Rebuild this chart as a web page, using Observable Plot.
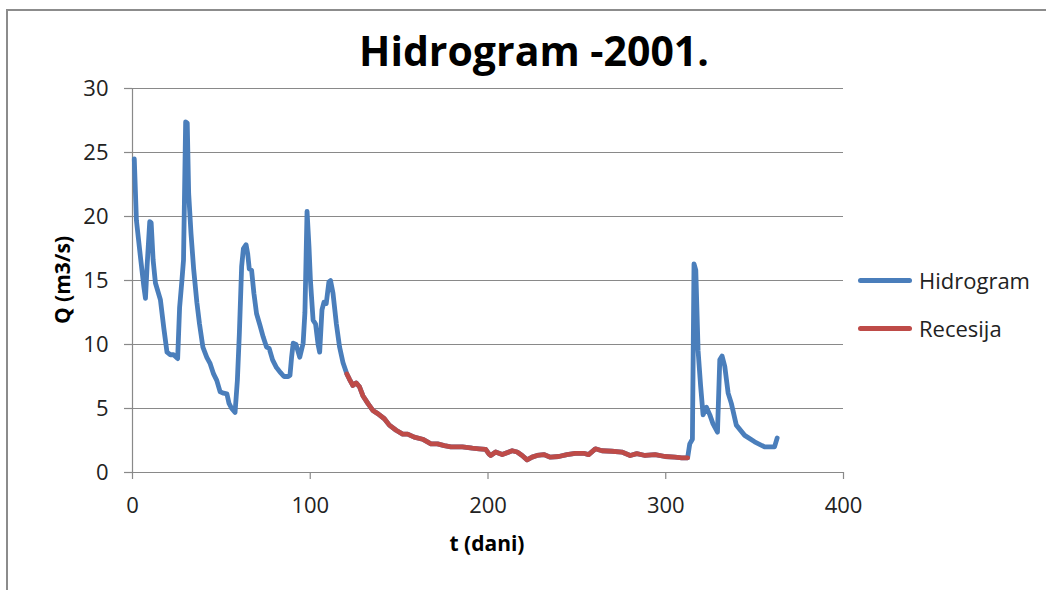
<!DOCTYPE html>
<html>
<head>
<meta charset="utf-8">
<script src="https://cdn.jsdelivr.net/npm/d3@7"></script>
<script src="https://cdn.jsdelivr.net/npm/@observablehq/plot@0.6"></script>
<style>
  html, body { margin: 0; padding: 0; background: #fff; }
  #wrap { position: relative; width: 1046px; height: 590px; overflow: hidden; font-family: "Open Sans", sans-serif; }
  #wrap svg { position: absolute; left: 0; top: 0; }
  .frame { position: absolute; left: 6px; top: 9px; width: 1200px; height: 800px; border: 2px solid #8c8c8c; box-sizing: border-box; }
  .title { position: absolute; left: 0; width: 1068px; top: 22px; text-align: center; font-weight: 700; font-size: 41px; line-height: 56px; color: #000; }
  .xlab { position: absolute; left: 387px; width: 200px; top: 528px; text-align: center; font-weight: 700; font-size: 21px; line-height: 30px; color: #000; }
  .ylab { position: absolute; left: 0; top: 0; white-space: nowrap; font-weight: 700; font-size: 21px; line-height: 30px; color: #000; }
  .leg { position: absolute; left: 858px; display: flex; align-items: center; font-size: 22px; color: #222; }
  .leg .sw { width: 54px; height: 5px; border-radius: 3px; margin-right: 7px; }
</style>
</head>
<body>
<div id="wrap">
  <div class="frame"></div>
</div>
<script>
// ---- data ----
const seriesNames = ["Hidrogram", "Recesija"];
const seriesColors = ["#4A7EBB", "#BE4B48"];
const xTicks = [0, 100, 200, 300, 400];
const yTicks = [0, 5, 10, 15, 20, 25, 30];

// Hidrogram, rising part (days 1–121)
const hidroT1 = [1, 2.2, 4.5, 6.4, 7.3, 8.2, 9.7, 10.5, 11.6, 12.9, 15.7, 17.6, 19.4, 21.3, 23.1, 25.4, 26.5, 27.8, 28.7, 29.9, 30.8, 31.6, 32.9, 34.4, 36.2, 37.7, 39.6, 41.8, 43.7, 45.6, 47.4, 49.3, 51.2, 53.1, 54.3, 55.8, 57.7, 59, 60.1, 61.4, 62.4, 63.9, 64.8, 65.7, 67, 68.3, 69.8, 71.7, 73.5, 75.4, 76.9, 78.8, 81, 83.3, 85.2, 87.6, 88.6, 89.5, 90.4, 92, 94.1, 96, 97, 98.2, 99.3, 100.1, 101.6, 103, 104.4, 105.3, 106.6, 107.7, 109, 110.5, 111.4, 112.8, 114.7, 116.5, 118.4, 120.6];
const hidroQ1 = [24.5, 19.7, 16.8, 14.5, 13.6, 16.1, 19.6, 19.5, 16.6, 14.8, 13.5, 11.3, 9.4, 9.2, 9.2, 8.9, 12.9, 15.0, 16.6, 27.4, 27.3, 21.8, 18.7, 15.9, 13.3, 11.6, 9.8, 9.0, 8.5, 7.7, 7.2, 6.3, 6.2, 6.15, 5.4, 5.0, 4.7, 7.2, 10.8, 16.1, 17.5, 17.8, 17.1, 15.9, 15.8, 14.0, 12.4, 11.5, 10.6, 9.8, 9.7, 8.8, 8.2, 7.8, 7.5, 7.5, 7.6, 9.0, 10.1, 10.0, 9.0, 10.1, 12.5, 20.4, 17.6, 15.0, 11.9, 11.6, 10.0, 9.4, 12.7, 13.3, 13.2, 14.9, 15.0, 14.0, 11.6, 9.8, 8.6, 7.7];

// Recesija (days 121–312)
const recT = [120.6, 122, 124, 125.8, 127.7, 129.6, 132.4, 135.2, 138, 141.7, 144.5, 148.3, 152, 154.8, 158.5, 163.2, 167.9, 171.6, 175.4, 179.1, 185.6, 191.2, 195, 198.7, 200.5, 201.5, 204.3, 208, 213.6, 216.4, 219.2, 222, 224.8, 227.6, 231.4, 235.1, 239.8, 244.4, 249.1, 253.8, 256.6, 260.4, 264.1, 269.7, 275.3, 280, 283.7, 288.4, 294, 299.6, 305.2, 309, 312.3];
const recQ = [7.7, 7.3, 6.8, 7.0, 6.7, 6.0, 5.4, 4.85, 4.6, 4.2, 3.7, 3.3, 3.0, 3.0, 2.76, 2.6, 2.24, 2.24, 2.1, 2.0, 2.0, 1.9, 1.85, 1.8, 1.45, 1.33, 1.6, 1.4, 1.7, 1.6, 1.33, 0.99, 1.2, 1.33, 1.4, 1.2, 1.25, 1.4, 1.5, 1.5, 1.4, 1.85, 1.7, 1.66, 1.6, 1.33, 1.47, 1.33, 1.4, 1.25, 1.2, 1.15, 1.15];

// Hidrogram, autumn part (days 312–363)
const hidroT2 = [312.3, 313.5, 315, 315.9, 316.9, 318.2, 319.6, 321, 322.9, 324.8, 326.6, 329.1, 330.4, 331.7, 333.2, 335.1, 336.9, 339.7, 344.4, 350, 355.6, 361.2, 362.7];
const hidroQ2 = [1.15, 2.24, 2.6, 16.3, 15.8, 9.5, 6.8, 4.5, 5.1, 4.5, 3.8, 3.15, 8.8, 9.1, 8.3, 6.2, 5.4, 3.7, 2.9, 2.4, 2.0, 2.0, 2.7];

// ---- tables ----
const hidro = [...hidroT1.map((t, i) => ({t, q: hidroQ1[i]})),
               ...recT.map((t, i) => ({t, q: recQ[i]})),
               ...hidroT2.map((t, i) => ({t, q: hidroQ2[i]}))];
const rec = recT.map((t, i) => ({t, q: recQ[i]}));

const grey = "#898989";
const chart = Plot.plot({
  width: 1046,
  height: 590,
  marginLeft: 132,
  marginRight: 203,
  marginTop: 88,
  marginBottom: 118,
  style: {fontFamily: "'Open Sans', sans-serif", fontSize: "22px", background: "transparent", overflow: "visible"},
  x: {domain: [0, 400]},
  y: {domain: [0, 30]},
  marks: [
    Plot.gridY(yTicks, {stroke: grey, strokeOpacity: 1, strokeWidth: 1.2}),
    Plot.ruleX([0], {stroke: grey, strokeWidth: 1.2}),
    Plot.axisX(xTicks, {tickSize: 7, tickPadding: 18, stroke: grey, strokeWidth: 1.2, fill: "#222", label: null, fontSize: 22}),
    Plot.axisY(yTicks, {tickSize: 8, tickPadding: 16, stroke: grey, strokeWidth: 1.2, fill: "#222", label: null, fontSize: 22}),
    Plot.line(hidro, {x: "t", y: "q", stroke: seriesColors[0], strokeWidth: 4.8, strokeLinejoin: "round", strokeLinecap: "round"}),
    Plot.line(rec, {x: "t", y: "q", stroke: seriesColors[1], strokeWidth: 4.8, strokeLinejoin: "round", strokeLinecap: "round"})
  ]
});

const wrap = document.getElementById("wrap");
wrap.appendChild(chart);

const title = document.createElement("div");
title.className = "title";
title.textContent = "Hidrogram -2001.";
wrap.appendChild(title);

const xl = document.createElement("div");
xl.className = "xlab";
xl.textContent = "t (dani)";
wrap.appendChild(xl);

const yl = document.createElement("div");
yl.className = "ylab";
yl.textContent = "Q (m3/s)";
wrap.appendChild(yl);
// center the rotated label at (62, 280)
const w = yl.offsetWidth, h = yl.offsetHeight;
yl.style.left = (62 - w / 2) + "px";
yl.style.top = (280 - h / 2) + "px";
yl.style.transform = "rotate(-90deg)";

const legTops = [265, 313];
seriesNames.forEach((name, i) => {
  const d = document.createElement("div");
  d.className = "leg";
  d.style.top = legTops[i] + "px";
  d.style.height = "30px";
  const sw = document.createElement("div");
  sw.className = "sw";
  sw.style.background = seriesColors[i];
  const tx = document.createElement("span");
  tx.textContent = name;
  d.appendChild(sw);
  d.appendChild(tx);
  wrap.appendChild(d);
});
</script>
</body>
</html>
